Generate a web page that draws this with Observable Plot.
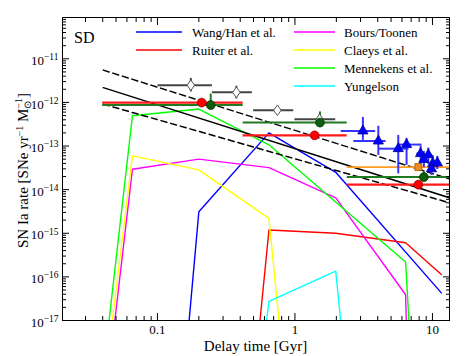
<!DOCTYPE html>
<html><head><meta charset="utf-8">
<script src="https://cdn.jsdelivr.net/npm/d3@7"></script>
<script src="https://cdn.jsdelivr.net/npm/@observablehq/plot@0.6"></script>
<style>
body{margin:0;background:#fff;}
#chart{width:473px;height:356px;}
</style></head><body><div id="chart"></div>
<script>
// ---------- model curves: delay time [Gyr] and SN Ia rate ----------
const seriesNames = ["Wang/Han et al.", "Ruiter et al.", "Bours/Toonen", "Claeys et al.", "Mennekens et al.", "Yungelson"];
const seriesColors = ["#0000ff", "#ff0000", "#ff00ff", "#ffff00", "#00ff00", "#00ffff"];
const wangT = [0.17, 0.2, 0.647, 1.98, 11.6];
const wangR = [1e-17, 3.1e-15, 2.0e-13, 2.5e-14, 4.3e-17];
const ruiterT = [0.557, 0.647, 1.98, 6.38, 11.6];
const ruiterR = [1e-17, 1.19e-15, 1.0e-15, 6.05e-16, 1.13e-16];
const boursT = [0.049, 0.0658, 0.2, 0.647, 1.98, 6.38, 6.45];
const boursR = [1e-17, 2.94e-14, 5.0e-14, 3.2e-14, 6.5e-15, 3.9e-17, 1e-17];
const claeysT = [0.047, 0.0658, 0.2, 0.647, 0.765];
const claeysR = [1e-17, 5.96e-14, 2.84e-14, 2.2e-15, 1e-17];
const mennT = [0.0445, 0.0658, 0.2, 0.647, 6.38, 6.74];
const mennR = [1e-17, 4.95e-13, 7.05e-13, 1.07e-13, 2.2e-16, 1e-17];
const yungT = [0.622, 0.647, 1.98, 2.15];
const yungR = [1e-17, 2.75e-17, 1.36e-16, 1e-17];

// ---------- fit lines ----------
const fitT = [0.0404, 13.3];
const fitMid = [2.18e-12, 6.5e-15];
const fitHigh = [5.5e-12, 1.76e-14];
const fitLow = [9.1e-13, 5.0e-15];

// ---------- binned observations ----------
const binLo = [0.04, 0.42, 2.4];
const binHi = [0.42, 2.4, 14];
const redBinR = [9.9e-13, 1.76e-13, 1.3e-14];
const redPtT = [0.21, 1.39, 7.89];
const greenBinR = [8.7e-13, 3.45e-13, 1.94e-14];
const greenPtT = [0.244, 1.52, 8.66];
const greenErrLo = [6.9e-13, 2.7e-13, 1.6e-14];
const greenErrHi = [1.55e-12, 6.05e-13, 2.6e-14];
const orangeBinLo = [2.4];
const orangeBinHi = [14];
const orangeR = [3.29e-14];
const orangePtT = [7.89];

// ---------- diamonds ----------
const diaT = [0.175, 0.375, 0.745, 1.51];
const diaR = [2.48e-12, 1.7e-12, 6.6e-13, 4.1e-13];
const diaTLo = [0.101, 0.251, 0.5, 1.0];
const diaTHi = [0.251, 0.49, 0.98, 1.98];
const diaRLo = [1.74e-12, 1.2e-12, 6.1e-13, 3.8e-13];
const diaRHi = [3.55e-12, 2.35e-12, 7.2e-13, 4.5e-13];

// ---------- triangles ----------
const triT = [3.12, 4.04, 5.64, 6.48, 8.2, 9.33, 8.66, 10.05, 10.85, 9.84];
const triR = [2.21e-13, 1.3e-13, 8.7e-14, 1.08e-13, 6.7e-14, 6.3e-14, 4.9e-14, 4.0e-14, 4.1e-14, 3.0e-14];
const triTLo = [2.17, 2.68, 4.07, 5.7, 7.7, 8.8, 8.2, 9.6, 10.4, 9.4];
const triTHi = [3.86, 4.6, 6.74, 8.4, 8.7, 9.9, 9.1, 10.5, 11.3, 10.3];
const triRLo = [1.35e-13, 6.1e-14, 2.3e-14, 3.6e-14, 2.6e-14, 3.8e-14, 3.2e-14, 2.6e-14, 2.9e-14, 2.1e-14];
const triRHi = [4.5e-13, 2.84e-13, 1.75e-13, 1.5e-13, 1.0e-13, 9.0e-14, 7.5e-14, 6.0e-14, 5.8e-14, 4.3e-14];

// ---------- axes ----------
const xTicks = [0.1, 1, 10];
const yTickExp = [-17, -16, -15, -14, -13, -12, -11];

// ---------- layout ----------
const W = 473, H = 356, mL = 62, mR = 24, mT = 17, mB = 36;
const xDomain = [0.0204, 13.3], yDomain = [1e-17, 8.85e-11];
const font = "'Liberation Serif', 'Times New Roman', serif";

const yTicks = yTickExp.map(e => Math.pow(10, e));
const minorOf = (dom) => { const out = []; for (let e = -18; e <= 2; e++) for (let k = 2; k <= 9; k++) { const v = k * Math.pow(10, e); if (v >= dom[0] && v <= dom[1]) out.push(v); } return out; };
const xMinor = minorOf(xDomain), yMinor = minorOf(yDomain);

const modelT = [wangT, ruiterT, boursT, claeysT, mennT, yungT];
const modelR = [wangR, ruiterR, boursR, claeysR, mennR, yungR];
const models = modelT.flatMap((ts, i) => ts.map((t, j) => ({t, r: modelR[i][j], s: seriesNames[i]})));
const fitRows = (rs) => fitT.map((t, i) => ({t, r: rs[i]}));
const bins = (lo, hi, rs, pts) => rs.map((r, i) => ({lo: lo[i], hi: hi[i], r, t: pts[i]}));
const redBins = bins(binLo, binHi, redBinR, redPtT);
const greenBins = bins(binLo, binHi, greenBinR, greenPtT).map((d, i) => ({...d, elo: greenErrLo[i], ehi: greenErrHi[i]}));
const orangeBins = bins(orangeBinLo, orangeBinHi, orangeR, orangePtT);
const dias = diaT.map((t, i) => ({t, r: diaR[i], tlo: diaTLo[i], thi: diaTHi[i], rlo: diaRLo[i], rhi: diaRHi[i]}));
const tris = triT.map((t, i) => ({t, r: triR[i], tlo: triTLo[i], thi: triTHi[i], rlo: triRLo[i], rhi: triRHi[i]}));

const thinDiamond = {draw(ctx, size) { const r = Math.sqrt(size / Math.PI), w = r * 0.7; ctx.moveTo(0, -r); ctx.lineTo(w, 0); ctx.lineTo(0, r); ctx.lineTo(-w, 0); ctx.closePath(); }};

const tickAxes = [
  Plot.axisX({ticks: xTicks, anchor: "bottom", tickSize: 7, dy: -7, fill: "none", label: null}),
  Plot.axisX({ticks: xMinor, anchor: "bottom", tickSize: 4, dy: -4, fill: "none", label: null}),
  Plot.axisX({ticks: xTicks, anchor: "top", tickSize: 7, dy: 7, fill: "none", label: null}),
  Plot.axisX({ticks: xMinor, anchor: "top", tickSize: 4, dy: 4, fill: "none", label: null}),
  Plot.axisY({ticks: yTicks, anchor: "left", tickSize: 7, dx: 7, fill: "none", label: null}),
  Plot.axisY({ticks: yMinor, anchor: "left", tickSize: 4, dx: 4, fill: "none", label: null}),
  Plot.axisY({ticks: yTicks, anchor: "right", tickSize: 7, dx: -7, fill: "none", label: null}),
  Plot.axisY({ticks: yMinor, anchor: "right", tickSize: 4, dx: -4, fill: "none", label: null}),
  Plot.axisX({ticks: xTicks, anchor: "bottom", tickSize: 0, tickPadding: 4, tickFormat: d => String(d), label: null, fontSize: 13}),
  Plot.axisY({ticks: yTicks, anchor: "left", tickSize: 0, tickPadding: 4, tickFormat: d => String(Math.round(Math.log10(d))), label: null, fontSize: 13, dy: 2})
];

const chart = Plot.plot({
  width: W, height: H, marginLeft: mL, marginRight: mR, marginTop: mT, marginBottom: mB,
  x: {type: "log", domain: xDomain},
  y: {type: "log", domain: yDomain},
  color: {domain: seriesNames, range: seriesColors},
  style: {fontFamily: font, fontSize: "13px", background: "white", color: "black"},
  marks: [
    Plot.line(models, {x: "t", y: "r", z: "s", stroke: "s", strokeWidth: 1.4, clip: true}),
    Plot.line(fitRows(fitMid), {x: "t", y: "r", stroke: "black", strokeWidth: 1.5, clip: true}),
    Plot.line(fitRows(fitHigh), {x: "t", y: "r", stroke: "black", strokeWidth: 1.5, strokeDasharray: "6,4", clip: true}),
    Plot.line(fitRows(fitLow), {x: "t", y: "r", stroke: "black", strokeWidth: 1.5, strokeDasharray: "6,4", clip: true}),
    Plot.ruleY(dias, {x1: "tlo", x2: "thi", y: "r", stroke: "#444", strokeWidth: 2, clip: true}),
    Plot.ruleX(dias, {x: "t", y1: "rlo", y2: "rhi", stroke: "#444", strokeWidth: 2, clip: true}),
    Plot.ruleY(greenBins, {x1: "lo", x2: "hi", y: "r", stroke: "#1f7a1f", strokeWidth: 2, clip: true}),
    Plot.ruleY(redBins, {x1: "lo", x2: "hi", y: "r", stroke: "#ff1a1a", strokeWidth: 2.2, clip: true}),
    Plot.ruleY(orangeBins, {x1: "lo", x2: "hi", y: "r", stroke: "#ff9a22", strokeWidth: 1.8, clip: true}),
    Plot.ruleX(greenBins, {x: "t", y1: "elo", y2: "ehi", stroke: "#1f7a1f", strokeWidth: 2, clip: true}),
    Plot.ruleY(tris, {x1: "tlo", x2: "thi", y: "r", stroke: "#3535ff", strokeWidth: 2, clip: true}),
    Plot.ruleX(tris, {x: "t", y1: "rlo", y2: "rhi", stroke: "#3535ff", strokeWidth: 2, clip: true}),
    Plot.dot(dias, {x: "t", y: "r", symbol: thinDiamond, r: 5.3, fill: "white", stroke: "#555", strokeWidth: 1}),
    Plot.dot(tris, {x: "t", y: "r", symbol: "triangle", r: 3.8, fill: "#0000ff", stroke: "#00009a", strokeWidth: 0.8}),
    Plot.dot(orangeBins, {x: "t", y: "r", symbol: "square", r: 3.9, fill: "#ee8a22", stroke: "#a05a00", strokeWidth: 0.8}),
    Plot.dot(greenBins, {x: "t", y: "r", r: 4.4, fill: "#0d5f0d", stroke: "#003000", strokeWidth: 0.8}),
    Plot.dot(redBins, {x: "t", y: "r", r: 4.4, fill: "#ff0000", stroke: "#a00000", strokeWidth: 0.8}),
    ...tickAxes,
    Plot.frame({stroke: "#000", strokeWidth: 1})
  ]
});

const svg = d3.select(chart);
svg.selectAll('g[aria-label="y-axis tick label"] text').each(function() {
  const t = d3.select(this);
  const e = t.text().replace("-", "\u2212");
  t.text(null);
  t.append("tspan").text("10");
  t.append("tspan").attr("dy", "-0.5em").attr("font-size", "9.5px").text(e);
});

const plotW = W - mL - mR, plotH = H - mT - mB;
const addText = (x, y, size, anchor) => svg.append("text").attr("x", x).attr("y", y).attr("text-anchor", anchor)
  .attr("font-family", font).attr("font-size", size).attr("fill", "black");
addText(mL + plotW / 2, H - 5, 15, "middle").text("Delay time [Gyr]");
const yl = svg.append("text").attr("transform", `translate(28,${mT + plotH / 2 + 2}) rotate(-90)`)
  .attr("text-anchor", "middle").attr("font-family", font).attr("font-size", 15).attr("fill", "black");
yl.append("tspan").text("SN Ia rate [SNe yr");
yl.append("tspan").attr("dy", -5).attr("font-size", 10).text("\u22121");
yl.append("tspan").attr("dy", 5).text(" M");
yl.append("tspan").attr("dy", 3).attr("font-size", 10).text("\u2299");
yl.append("tspan").attr("dy", -9).attr("dx", -8).attr("font-size", 10).text("\u22121");
yl.append("tspan").attr("dy", 6).text("]");
addText(mL + 12, mT + 26, 16, "start").text("SD");
const legCols = [{x0: mL + 74, x1: mL + 120, tx: mL + 130}, {x0: mL + 232, x1: mL + 273, tx: mL + 282}];
const legRows = [15, 33, 51, 69];
const legPos = [[0, 0], [0, 1], [1, 0], [1, 1], [1, 2], [1, 3]];
seriesNames.forEach((name, i) => {
  const [c, r] = legPos[i];
  const col = legCols[c], y = mT + legRows[r];
  svg.append("line").attr("x1", col.x0).attr("x2", col.x1).attr("y1", y).attr("y2", y)
    .attr("stroke", seriesColors[i]).attr("stroke-width", 1.5);
  addText(col.tx, y + 4.5, 13, "start").text(name);
});

document.getElementById("chart").appendChild(chart);
</script>
</body></html>
